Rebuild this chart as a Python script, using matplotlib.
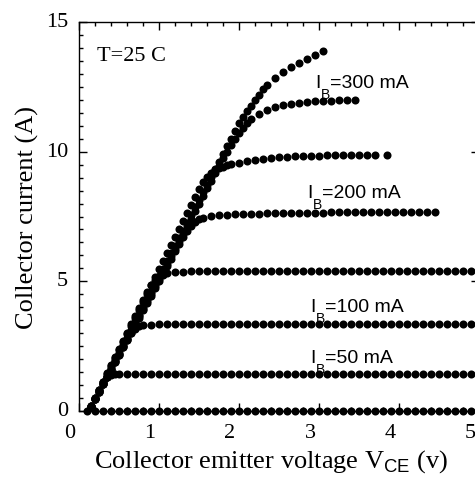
import matplotlib
matplotlib.use("Agg")
import matplotlib.pyplot as plt
import matplotlib.transforms as mtransforms
from matplotlib.ticker import MultipleLocator

# ---------------- data ----------------
vce_0 = [0.1, 0.2, 0.3, 0.4, 0.5, 0.6, 0.7, 0.8, 0.9, 1.0, 1.1, 1.2, 1.3, 1.4, 1.5,
         1.6, 1.7, 1.8, 1.9, 2.0, 2.1, 2.2, 2.3, 2.4, 2.5, 2.6, 2.7, 2.8, 2.9, 3.0,
         3.1, 3.2, 3.3, 3.4, 3.5, 3.6, 3.7, 3.8, 3.9, 4.0, 4.1, 4.2, 4.3, 4.4, 4.5,
         4.6, 4.7, 4.8, 4.9, 5.0]
ic_0 = [0, 0, 0, 0, 0, 0, 0, 0, 0, 0, 0, 0, 0, 0, 0, 0, 0, 0, 0, 0, 0, 0, 0, 0, 0,
        0, 0, 0, 0, 0, 0, 0, 0, 0, 0, 0, 0, 0, 0, 0, 0, 0, 0, 0, 0, 0, 0, 0, 0, 0]

vce_50 = [0.15, 0.2, 0.25, 0.3, 0.35, 0.4, 0.45, 0.5, 0.6, 0.7, 0.8, 0.9, 1.0, 1.1, 1.2,
          1.3, 1.4, 1.5, 1.6, 1.7, 1.8, 1.9, 2.0, 2.1, 2.2, 2.3, 2.4, 2.5, 2.6, 2.7, 2.8,
          2.9, 3.0, 3.1, 3.2, 3.3, 3.4, 3.5, 3.6, 3.7, 3.8, 3.9, 4.0, 4.1, 4.2, 4.3, 4.4,
          4.5, 4.6, 4.7, 4.8, 4.9, 5.0]
ic_50 = [0.19, 0.50, 0.82, 1.13, 1.30, 1.38, 1.41, 1.42, 1.42, 1.42, 1.42, 1.42, 1.42,
         1.42, 1.42, 1.42, 1.42, 1.42, 1.42, 1.42, 1.42, 1.42, 1.42, 1.42, 1.42, 1.42,
         1.42, 1.42, 1.42, 1.42, 1.42, 1.42, 1.42, 1.42, 1.42, 1.42, 1.42, 1.42, 1.42,
         1.42, 1.42, 1.42, 1.42, 1.42, 1.42, 1.42, 1.42, 1.42, 1.42, 1.42, 1.42, 1.42, 1.42]

vce_100 = [0.15, 0.2, 0.25, 0.3, 0.35, 0.4, 0.45, 0.5, 0.55, 0.6, 0.65, 0.7, 0.75, 0.8,
           0.9, 1.0, 1.1, 1.2, 1.3, 1.4, 1.5, 1.6, 1.7, 1.8, 1.9, 2.0, 2.1, 2.2, 2.3, 2.4,
           2.5, 2.6, 2.7, 2.8, 2.9, 3.0, 3.1, 3.2, 3.3, 3.4, 3.5, 3.6, 3.7, 3.8, 3.9, 4.0,
           4.1, 4.2, 4.3, 4.4, 4.5, 4.6, 4.7, 4.8, 4.9, 5.0]
ic_100 = [0.17, 0.46, 0.74, 1.03, 1.31, 1.60, 1.88, 2.17, 2.45, 2.74, 3.00, 3.18, 3.26,
          3.30, 3.33, 3.34, 3.35, 3.35, 3.35, 3.35, 3.35, 3.35, 3.35, 3.35, 3.35, 3.35,
          3.35, 3.35, 3.35, 3.35, 3.35, 3.35, 3.35, 3.35, 3.35, 3.35, 3.35, 3.35, 3.35,
          3.35, 3.35, 3.35, 3.35, 3.35, 3.35, 3.35, 3.35, 3.35, 3.35, 3.35, 3.35, 3.35,
          3.35, 3.35, 3.35, 3.35]

vce_150 = [0.15, 0.2, 0.25, 0.3, 0.35, 0.4, 0.45, 0.5, 0.55, 0.6, 0.65, 0.7, 0.75, 0.8,
           0.85, 0.9, 0.95, 1.0, 1.05, 1.1, 1.2, 1.3, 1.4, 1.5, 1.6, 1.7, 1.8, 1.9, 2.0,
           2.1, 2.2, 2.3, 2.4, 2.5, 2.6, 2.7, 2.8, 2.9, 3.0, 3.1, 3.2, 3.3, 3.4, 3.5, 3.6,
           3.7, 3.8, 3.9, 4.0, 4.1, 4.2, 4.3, 4.4, 4.5, 4.6, 4.7, 4.8, 4.9, 5.0]
ic_150 = [0.19, 0.50, 0.82, 1.13, 1.45, 1.76, 2.08, 2.39, 2.71, 3.02, 3.34, 3.65, 3.97,
          4.28, 4.58, 4.85, 5.05, 5.18, 5.26, 5.31, 5.35, 5.37, 5.38, 5.38, 5.38, 5.38,
          5.38, 5.38, 5.38, 5.38, 5.38, 5.38, 5.38, 5.38, 5.38, 5.38, 5.38, 5.38, 5.38,
          5.38, 5.38, 5.38, 5.38, 5.38, 5.38, 5.38, 5.38, 5.38, 5.38, 5.38, 5.38, 5.38,
          5.38, 5.38, 5.38, 5.38, 5.38, 5.38, 5.38]

vce_200 = [0.15, 0.2, 0.25, 0.3, 0.35, 0.4, 0.45, 0.5, 0.55, 0.6, 0.65, 0.7, 0.75, 0.8,
           0.85, 0.9, 0.95, 1.0, 1.05, 1.1, 1.15, 1.2, 1.25, 1.3, 1.35, 1.4, 1.45, 1.5,
           1.55, 1.65, 1.75, 1.85, 1.95, 2.05, 2.15, 2.25, 2.35, 2.45, 2.55, 2.65, 2.75,
           2.85, 2.95, 3.05, 3.15, 3.25, 3.35, 3.45, 3.55, 3.65, 3.75, 3.85, 3.95, 4.05,
           4.15, 4.25, 4.35, 4.45]
ic_200 = [0.17, 0.46, 0.74, 1.03, 1.31, 1.60, 1.88, 2.17, 2.45, 2.74, 3.02, 3.31, 3.59,
          3.88, 4.16, 4.45, 4.73, 5.02, 5.30, 5.59, 5.87, 6.16, 6.44, 6.70, 6.95, 7.15,
          7.30, 7.40, 7.46, 7.51, 7.54, 7.56, 7.58, 7.59, 7.60, 7.61, 7.62, 7.62, 7.63,
          7.63, 7.64, 7.64, 7.65, 7.65, 7.66, 7.66, 7.66, 7.67, 7.67, 7.67, 7.68, 7.68,
          7.68, 7.68, 7.69, 7.69, 7.69, 7.69]

vce_250 = [0.15, 0.2, 0.25, 0.3, 0.35, 0.4, 0.45, 0.5, 0.55, 0.6, 0.65, 0.7, 0.75, 0.8,
           0.85, 0.9, 0.95, 1.0, 1.05, 1.1, 1.15, 1.2, 1.25, 1.3, 1.35, 1.4, 1.45, 1.5,
           1.55, 1.6, 1.65, 1.7, 1.75, 1.8, 1.85, 1.9, 2.0, 2.1, 2.2, 2.3, 2.4, 2.5, 2.6,
           2.7, 2.8, 2.9, 3.0, 3.1, 3.2, 3.3, 3.4, 3.5, 3.6, 3.7, 3.85]
ic_250 = [0.19, 0.50, 0.81, 1.12, 1.43, 1.74, 2.05, 2.36, 2.67, 2.98, 3.29, 3.60, 3.91,
          4.22, 4.53, 4.84, 5.15, 5.46, 5.77, 6.08, 6.39, 6.70, 7.01, 7.32, 7.63, 7.94,
          8.25, 8.56, 8.82, 9.02, 9.17, 9.28, 9.36, 9.42, 9.47, 9.51, 9.58, 9.63, 9.68,
          9.72, 9.75, 9.78, 9.80, 9.82, 9.83, 9.84, 9.85, 9.86, 9.86, 9.87, 9.87, 9.87,
          9.88, 9.88, 9.88]

vce_300 = [0.15, 0.2, 0.25, 0.3, 0.35, 0.4, 0.45, 0.5, 0.55, 0.6, 0.65, 0.7, 0.75, 0.8,
           0.85, 0.9, 0.95, 1.0, 1.05, 1.1, 1.15, 1.2, 1.25, 1.3, 1.35, 1.4, 1.45, 1.5,
           1.55, 1.6, 1.65, 1.7, 1.75, 1.8, 1.85, 1.9, 1.95, 2.0, 2.05, 2.1, 2.15, 2.25,
           2.35, 2.45, 2.55, 2.65, 2.75, 2.85, 2.95, 3.05, 3.15, 3.25, 3.35, 3.45]
ic_300 = [0.17, 0.46, 0.75, 1.04, 1.33, 1.62, 1.91, 2.20, 2.49, 2.78, 3.07, 3.36, 3.65,
          3.94, 4.23, 4.52, 4.81, 5.10, 5.39, 5.68, 5.97, 6.26, 6.55, 6.84, 7.13, 7.42,
          7.71, 8.00, 8.29, 8.58, 8.87, 9.16, 9.45, 9.74, 10.00, 10.25, 10.50, 10.72,
          10.92, 11.10, 11.25, 11.47, 11.62, 11.72, 11.79, 11.84, 11.88, 11.91, 11.94,
          11.96, 11.97, 11.98, 11.99, 12.00]

vce_top = [0.15, 0.2, 0.25, 0.3, 0.35, 0.4, 0.45, 0.5, 0.55, 0.6, 0.65, 0.7, 0.75, 0.8,
           0.85, 0.9, 0.95, 1.0, 1.05, 1.1, 1.15, 1.2, 1.25, 1.3, 1.35, 1.4, 1.45, 1.5,
           1.55, 1.6, 1.65, 1.7, 1.75, 1.8, 1.85, 1.9, 1.95, 2.0, 2.05, 2.1, 2.15, 2.2,
           2.25, 2.3, 2.35, 2.45, 2.55, 2.65, 2.75, 2.85, 2.95, 3.05]
ic_top = [0.18, 0.47, 0.77, 1.06, 1.36, 1.65, 1.95, 2.24, 2.54, 2.83, 3.13, 3.42, 3.72,
          4.01, 4.31, 4.60, 4.90, 5.19, 5.49, 5.78, 6.08, 6.37, 6.67, 6.96, 7.26, 7.55,
          7.85, 8.14, 8.44, 8.73, 9.03, 9.32, 9.62, 9.91, 10.21, 10.50, 10.80, 11.09,
          11.32, 11.55, 11.78, 12.00, 12.20, 12.40, 12.57, 12.85, 13.07, 13.25, 13.42,
          13.58, 13.74, 13.90]

series = [(vce_0, ic_0), (vce_50, ic_50), (vce_100, ic_100), (vce_150, ic_150),
          (vce_200, ic_200), (vce_250, ic_250), (vce_300, ic_300), (vce_top, ic_top)]

label_values = ["=300 mA", "=200 mA", "=100 mA", "=50 mA"]
label_x = [2.95, 2.85, 2.89, 2.89]
label_y = [12.5, 8.27, 3.85, 1.88]

x_ticks = [0, 1, 2, 3, 4, 5]
y_ticks = [0, 5, 10, 15]

# ---------------- style ----------------
plt.rcParams['font.family'] = ['Liberation Serif', 'DejaVu Serif']
plt.rcParams['mathtext.fontset'] = 'custom'
plt.rcParams['mathtext.rm'] = 'Liberation Sans'
plt.rcParams['mathtext.it'] = 'Liberation Sans:italic'
plt.rcParams['mathtext.bf'] = 'Liberation Sans:bold'

fig = plt.figure(figsize=(4.75, 4.81), dpi=100)
W, H = 475.0, 481.0
ax = fig.add_axes([79 / W, 69 / H, 400 / W, 389 / H])

for vx, vy in series:
    ax.plot(vx, vy, 'o', ms=5.8, color='black', mec='black', mew=0.0,
            clip_on=False, zorder=3)

ax.set_xlim(0, 5)
ax.set_ylim(0, 15)
ax.set_xticks(x_ticks)
ax.set_yticks(y_ticks)
ax.xaxis.set_minor_locator(MultipleLocator(0.2))
ax.yaxis.set_minor_locator(MultipleLocator(0.5))
ax.tick_params(which='both', direction='in', top=True, right=True, width=1.0,
               colors='black', labelsize=16)
ax.tick_params(which='major', length=5.5)
ax.tick_params(which='minor', length=3.0)
ax.tick_params(axis='x', pad=9.0)
ax.tick_params(axis='y', pad=8)
for s in ax.spines.values():
    s.set_linewidth(1.0)
    s.set_color('black')

# shift tick labels slightly as in the reference
offx = mtransforms.ScaledTranslation(-9 / 100, 0, fig.dpi_scale_trans)
for lab in ax.get_xticklabels():
    lab.set_transform(lab.get_transform() + offx)
offy = mtransforms.ScaledTranslation(0, 3 / 100, fig.dpi_scale_trans)
for lab in ax.get_yticklabels():
    lab.set_transform(lab.get_transform() + offy)

ax.set_xlabel("Collector emitter voltage V$_{\\mathrm{CE}}$ (v)", fontsize=19)
ax.set_ylabel("Collector current (A)", fontsize=19)
ax.xaxis.set_label_coords(0.48, -0.092)
ax.yaxis.set_label_coords(-0.10, 0.5)

ax.text(0.225, 13.54, "T=25 C", fontsize=16, va='baseline', ha='left')
sans = ['Liberation Sans', 'DejaVu Sans']
for t, lx, ly in zip(label_values, label_x, label_y):
    ax.annotate("I", (lx, ly), va='baseline', ha='left', fontsize=14, family=sans)
    ax.annotate("B", (lx, ly), xytext=(6, -11), textcoords='offset pixels',
                va='baseline', ha='left', fontsize=10, family=sans)
    ax.annotate(t, (lx, ly), xytext=(15, 0), textcoords='offset pixels',
                va='baseline', ha='left', fontsize=14, family=sans)

fig.savefig("out.png", dpi=100)
